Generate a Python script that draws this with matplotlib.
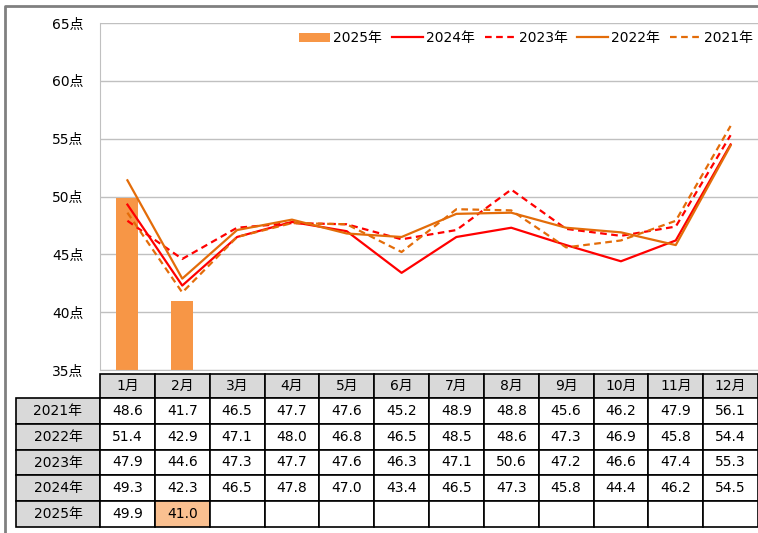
import numpy as np
import matplotlib.pyplot as plt
from matplotlib.patches import Rectangle

plt.rcParams['font.family'] = ['DejaVu Sans', 'Noto Sans CJK JP']

months = ['1月', '2月', '3月', '4月', '5月', '6月', '7月', '8月', '9月', '10月', '11月', '12月']
y2021 = [48.6, 41.7, 46.5, 47.7, 47.6, 45.2, 48.9, 48.8, 45.6, 46.2, 47.9, 56.1]
y2022 = [51.4, 42.9, 47.1, 48.0, 46.8, 46.5, 48.5, 48.6, 47.3, 46.9, 45.8, 54.4]
y2023 = [47.9, 44.6, 47.3, 47.7, 47.6, 46.3, 47.1, 50.6, 47.2, 46.6, 47.4, 55.3]
y2024 = [49.3, 42.3, 46.5, 47.8, 47.0, 43.4, 46.5, 47.3, 45.8, 44.4, 46.2, 54.5]
y2025 = [49.9, 41.0]
yticks = [35, 40, 45, 50, 55, 60, 65]

W, H = 758, 533
fig = plt.figure(figsize=(W / 100, H / 100), dpi=100)

# 外枠
frame = fig.add_axes([0, 0, 1, 1])
frame.set_xlim(0, W)
frame.set_ylim(H, 0)
frame.axis('off')
frame.plot([5, 5, W], [H, 6, 6], color='#808080', lw=2)

# グラフ部分
x0, x1, ytop, ybot = 100, 758, 23, 370
ax = fig.add_axes([x0 / W, 1 - ybot / H, (x1 - x0) / W, (ybot - ytop) / H])
x = np.arange(12)
ax.bar(np.arange(len(y2025)), np.array(y2025) - 35, bottom=35, width=0.4,
       color='#F79646', label='2025年', zorder=2)
ax.plot(x, y2024, color='#FF0000', lw=1.6, label='2024年', zorder=3)
ax.plot(x, y2023, color='#FF0000', lw=1.6, ls=(0, (3, 2)), label='2023年', zorder=3)
ax.plot(x, y2022, color='#E36C09', lw=1.6, label='2022年', zorder=3)
ax.plot(x, y2021, color='#E36C09', lw=1.6, ls=(0, (3, 2)), label='2021年', zorder=3)
ax.set_xlim(-0.5, 11.5)
ax.set_ylim(35, 65)
ax.set_yticks(yticks)
ax.set_yticklabels([f'{v}点' for v in yticks], fontsize=10)
ax.set_xticks([])
ax.grid(axis='y', color='#c0c0c0', lw=1, zorder=0)
for s in ['top', 'right']:
    ax.spines[s].set_visible(False)
ax.spines['left'].set_color('#c0c0c0')
ax.spines['bottom'].set_color('#c0c0c0')
ax.tick_params(axis='y', length=0, pad=12)
h, l = ax.get_legend_handles_labels()
order = [4, 0, 1, 2, 3] if l[0] != '2025年' else [0, 1, 2, 3, 4]
ax.legend([h[i] for i in order], [l[i] for i in order], loc='upper right',
          bbox_to_anchor=(1.005, 1.0), ncol=5, frameon=False,
          fontsize=10, handlelength=2.2, handletextpad=0.25, columnspacing=0.7,
          borderaxespad=0.2)

# データ表
tab = fig.add_axes([0, 0, 1, 1])
tab.set_xlim(0, W)
tab.set_ylim(H, 0)
tab.axis('off')
cw = (x1 - x0) / 12
hy0, hy1 = 374, 398
rows = [('2021年', y2021), ('2022年', y2022), ('2023年', y2023),
        ('2024年', y2024), ('2025年', y2025)]
rh = 25.8
gray = '#D9D9D9'
for i, m in enumerate(months):
    cx = x0 + i * cw
    tab.add_patch(Rectangle((cx, hy0), cw, hy1 - hy0, facecolor=gray,
                            edgecolor='black', lw=1.2))
    tab.text(cx + cw / 2, (hy0 + hy1) / 2, m, ha='center', va='center', fontsize=10)
for r, (name, vals) in enumerate(rows):
    ry = hy1 + r * rh
    tab.add_patch(Rectangle((16, ry), x0 - 16, rh, facecolor=gray,
                            edgecolor='black', lw=1.2))
    tab.text((16 + x0) / 2, ry + rh / 2, name, ha='center', va='center', fontsize=10)
    for i in range(12):
        cx = x0 + i * cw
        fc = 'white'
        if name == '2025年' and i == len(vals) - 1:
            fc = '#FAC090'
        tab.add_patch(Rectangle((cx, ry), cw, rh, facecolor=fc,
                                edgecolor='black', lw=1.2))
        if i < len(vals):
            tab.text(cx + cw / 2, ry + rh / 2, f'{vals[i]:.1f}', ha='center',
                     va='center', fontsize=10)

fig.savefig('out.png', dpi=100)
